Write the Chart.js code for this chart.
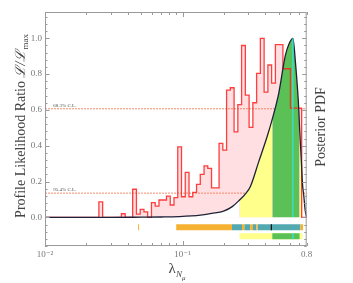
<!DOCTYPE html>
<html>
<head>
<meta charset="utf-8">
<script src="https://cdn.jsdelivr.net/npm/chart.js@4.4.0/dist/chart.umd.min.js"></script>
<style>
  html, body { margin: 0; padding: 0; background: #fff; }
  #wrap { width: 353px; height: 283px; }
</style>
</head>
<body>
<div id="wrap"><canvas id="chart" width="353" height="283"></canvas></div>
<script>
// profile likelihood ratio, histogram on log-spaced bins
const histLogStart = -1.9905;
const histLogStep = 0.02731;
const histHeights = [
  0, 0, 0, 0, 0, 0, 0, 0, 0, 0, 0, 0, 0, 0, 0,
  0.087, 0, 0, 0, 0, 0, 0.02, 0, 0,
  0.157, 0.018, 0.045, 0.031, 0, 0.082, 0.063, 0.097, 0.097, 0.119, 0.069, 0.11,
  0.394, 0.115, 0.251, 0.115, 0.14, 0.184, 0.24, 0.288, 0.274, 0.165, 0.165,
  0.413, 0.376, 0.711, 0.724, 0.478, 0.63, 0.96, 0.683, 0.503, 0.64, 0.804,
  1.0, 0.70, 0.851, 0.75, 0.965, 0.965, 0.83, 0.83, 0.61, 0.61
];

// posterior pdf (normalised to its peak)
const postX = [0.01, 0.03, 0.05, 0.07, 0.093, 0.135, 0.163, 0.199, 0.23, 0.26, 0.286, 0.311,
  0.358, 0.412, 0.45, 0.50, 0.56, 0.60, 0.635, 0.662, 0.70, 0.71, 0.732, 0.745, 0.761, 0.78, 0.8];
const postY = [0, 0, 0.001, 0.002, 0.004, 0.012, 0.022, 0.035, 0.06, 0.097, 0.13, 0.171,
  0.31, 0.45, 0.55, 0.69, 0.906, 0.975, 1.0, 0.87, 0.61, 0.5, 0.31, 0.19, 0.125, 0.04, 0];
const postMode = 0.635;
const post95 = [0.26, 0.745];
const post68 = [0.45, 0.71];

// likelihood thresholds
const clLevels = [0.6065, 0.1353];
const clLabels = ['68.3% C.L.', '95.4% C.L.'];

// profile likelihood intervals shown in the strip under the curve
const plOrange = [[0.0475, 0.0483], [0.09, 0.229], [0.2708, 0.2814], [0.3113, 0.3256], [0.3441, 0.3517], [0.7199, 0.7532]];
const plTeal = [[0.229, 0.2708], [0.2814, 0.3113], [0.3256, 0.3441], [0.3517, 0.7199]];
const plBest = 0.4426;

const xTicks = [0.01, 0.1, 0.8];
const xTickLabels = ['10\u207B\u00B2', '10\u207B\u00B9', '0.8'];
const yTicks = [0, 0.2, 0.4, 0.6, 0.8, 1.0];

const rowPL = -0.055;
const rowPost = -0.105;
const rowHalf = 0.017;

const serif = '"Liberation Serif", "DejaVu Serif", serif';

const histPoints = histHeights.map((h, i) => ({ x: Math.pow(10, histLogStart + i * histLogStep), y: h }));
const histEnd = Math.pow(10, histLogStart + histHeights.length * histLogStep);
histPoints.push({ x: histEnd, y: histHeights[histHeights.length - 1] });
histPoints.push({ x: histEnd, y: 0 });
histPoints.push({ x: 0.8, y: 0 });

const postPoints = postX.map((x, i) => ({ x, y: postY[i] }));

function stripPoints(list, y) {
  const pts = [];
  list.forEach(([a, b]) => {
    pts.push({ x: a, y }, { x: b, y }, { x: b, y: null });
  });
  return pts;
}

function postFillColor(ctx) {
  const a = postX[ctx.p0DataIndex], b = postX[ctx.p1DataIndex];
  if (a >= post68[0] && b <= post68[1]) return '#5bc156';
  if (a >= post95[0] && b <= post95[1]) return '#ffff8c';
  return '#ffffff';
}

function strip(data, color, order, width) {
  return {
    data, borderColor: color, borderWidth: width || 6, borderCapStyle: 'butt',
    fill: false, spanGaps: false, order, pointRadius: 0
  };
}

const decorPlugin = {
  id: 'decor',
  afterDraw(chart) {
    const { ctx, chartArea: a, scales: { x, y } } = chart;
    ctx.save();

    // frame
    ctx.strokeStyle = '#9a9a9a';
    ctx.lineWidth = 1;
    ctx.strokeRect(a.left + 0.5, a.top + 0.5, a.right - a.left - 1, a.bottom - a.top - 1);

    // inward ticks
    ctx.beginPath();
    for (let k = -4; k <= 28; k++) {
      const v = k * 0.04;
      const py = Math.round(y.getPixelForValue(v)) + 0.5;
      const len = k % 5 === 0 ? 4.5 : 2.5;
      ctx.moveTo(a.left, py); ctx.lineTo(a.left + len, py);
      ctx.moveTo(a.right, py); ctx.lineTo(a.right - len, py);
    }
    const xMinor = [];
    [0.01, 0.1].forEach(d => { for (let m = 2; m <= 9; m++) if (m * d <= 0.8) xMinor.push(m * d); });
    xMinor.concat([0.01, 0.1]).forEach(v => {
      const px = Math.round(x.getPixelForValue(v)) + 0.5;
      const len = (v === 0.01 || v === 0.1) ? 5 : 3;
      ctx.moveTo(px, a.bottom); ctx.lineTo(px, a.bottom - len);
      ctx.moveTo(px, a.top); ctx.lineTo(px, a.top + len);
    });
    ctx.stroke();

    // C.L. labels
    ctx.fillStyle = '#555';
    ctx.font = '5px ' + serif;
    clLevels.forEach((lv, i) => {
      ctx.fillText(clLabels[i], x.getPixelForValue(0.0115), y.getPixelForValue(lv) - 2);
    });

    // axis titles
    ctx.fillStyle = '#444';
    const drawRich = (parts, cx, cy, rot) => {
      let total = 0;
      parts.forEach(p => { ctx.font = p.font; p.w = ctx.measureText(p.t).width; total += p.w; });
      ctx.save();
      ctx.translate(cx, cy);
      ctx.rotate(rot);
      let xx = -total / 2;
      parts.forEach(p => {
        ctx.font = p.font;
        ctx.fillText(p.t, xx, p.dy);
        xx += p.w;
      });
      ctx.restore();
    };
    drawRich([
      { t: 'Profile Likelihood Ratio ', font: '14px ' + serif, dy: 5 },
      { t: '\u2112/\u2112', font: 'italic 14px ' + serif, dy: 5 },
      { t: 'max', font: '9px ' + serif, dy: 8 }
    ], 20, 126, -Math.PI / 2);
    drawRich([
      { t: 'Posterior PDF', font: '14px ' + serif, dy: 5 }
    ], 320, 127, -Math.PI / 2);
    drawRich([
      { t: '\u03BB', font: '15px ' + serif, dy: 4 },
      { t: 'N', font: 'italic 9px ' + serif, dy: 8 },
      { t: '\u03BC', font: 'italic 7px ' + serif, dy: 11 }
    ], 177, 269, 0);

    ctx.restore();
  }
};

new Chart(document.getElementById('chart'), {
  type: 'line',
  data: {
    datasets: [
      // cyan mode line
      { data: [{ x: postMode, y: 0 }, { x: postMode, y: 1.0 }], borderColor: '#33e6e6', borderWidth: 1.2, fill: false, order: 0 },
      // posterior curve
      { data: postPoints, borderColor: '#1d2238', borderWidth: 1.3, cubicInterpolationMode: 'monotone', fill: false, order: 1 },
      // histogram outline
      { data: histPoints, stepped: 'after', borderColor: 'rgba(255,30,30,0.85)', borderWidth: 1.3, fill: false, order: 2 },
      // posterior fill (credible regions)
      {
        data: postPoints, borderWidth: 0, borderColor: 'rgba(0,0,0,0)', cubicInterpolationMode: 'monotone',
        fill: 'origin', backgroundColor: '#ffffff', order: 3,
        segment: { backgroundColor: postFillColor }
      },
      // confidence level lines
      ...clLevels.map(lv => ({
        data: [{ x: 0.01, y: lv }, { x: 0.8, y: lv }], borderColor: 'rgba(240,120,80,0.85)',
        borderWidth: 1, borderDash: [2, 1], fill: false, order: 4
      })),
      // histogram fill
      { data: histPoints, stepped: 'after', borderWidth: 0, borderColor: 'rgba(0,0,0,0)', fill: 'origin', backgroundColor: '#ffdfe2', order: 5 },
      // strips
      strip([{ x: plBest, y: rowPL - rowHalf }, { x: plBest, y: rowPL + rowHalf }], '#111111', 6, 1.2),
      strip(stripPoints(plOrange, rowPL), '#f6b133', 7),
      strip(stripPoints(plTeal, rowPL), '#52a9b0', 7),
      strip([{ x: postMode, y: rowPost - rowHalf }, { x: postMode, y: rowPost + rowHalf }], '#33e6e6', 6, 1.2),
      strip(stripPoints([post68], rowPost), '#5bc156', 7),
      strip(stripPoints([post95], rowPost), '#ffff8c', 8)
    ]
  },
  options: {
    responsive: false,
    animation: false,
    devicePixelRatio: 1,
    layout: { padding: { top: 12, left: 0, right: 0, bottom: 0 } },
    elements: { point: { radius: 0 }, line: { tension: 0 } },
    plugins: { legend: { display: false }, tooltip: { enabled: false } },
    scales: {
      x: {
        type: 'logarithmic', min: 0.01, max: 0.8,
        grid: { display: false, drawTicks: false },
        border: { display: false },
        afterBuildTicks: s => { s.ticks = xTicks.map(v => ({ value: v })); },
        afterFit: s => { s.height = 37; },
        ticks: {
          autoSkip: false, maxRotation: 0, padding: 3, color: '#777',
          font: { family: serif, size: 9 },
          callback: v => xTickLabels[xTicks.indexOf(v)]
        }
      },
      y: {
        type: 'linear', min: -0.16, max: 1.147,
        grid: { display: false, drawTicks: false },
        border: { display: false },
        afterBuildTicks: s => { s.ticks = yTicks.map(v => ({ value: v })); },
        afterFit: s => { s.width = 45; },
        ticks: {
          padding: 3, color: '#777',
          font: { family: serif, size: 9 },
          callback: v => v.toFixed(1)
        }
      },
      y2: {
        type: 'linear', position: 'right', min: -0.16, max: 1.147,
        grid: { display: false, drawTicks: false },
        border: { display: false },
        ticks: { display: false },
        afterFit: s => { s.width = 46.3; }
      }
    }
  },
  plugins: [decorPlugin]
});
</script>
</body>
</html>
